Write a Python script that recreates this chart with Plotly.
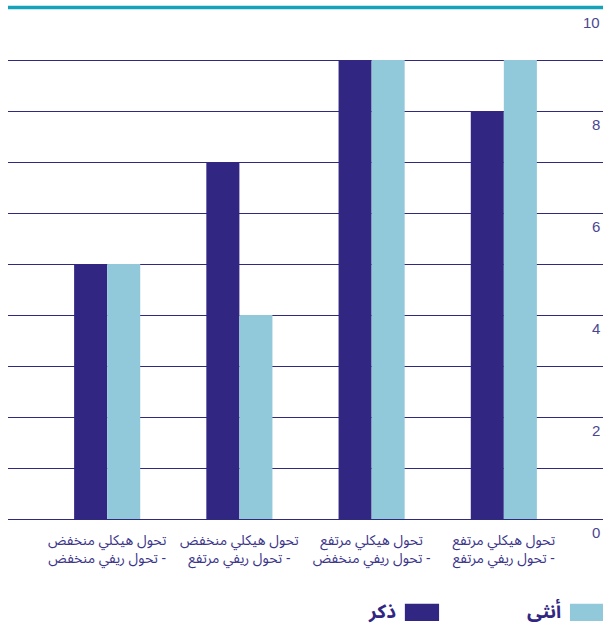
import plotly.graph_objects as go

categories = [
    "تحول هيكلي منخفض<br>تحول ريفي منخفض -",
    "تحول هيكلي منخفض<br>تحول ريفي مرتفع -",
    "تحول هيكلي مرتفع<br>تحول ريفي منخفض -",
    "تحول هيكلي مرتفع<br>تحول ريفي مرتفع -",
]
male = [5, 7, 9, 8]
female = [5, 4, 9, 9]
series_names = ["ذكر", "أنثى"]
y_tick_vals = [0, 2, 4, 6, 8, 10]
y_tick_text = ["0", "2", "4", "6", "8", "10"]

DARK = "#312783"
LIGHT = "#91c9db"
GRID = "#2e2a7e"
TEAL = "#14a3b8"
TXT = "#3b3589"
AR_FONT = "Noto Sans Arabic, DejaVu Sans, sans-serif"

x_idx = list(range(len(categories)))

fig = go.Figure()
fig.add_trace(go.Bar(x=x_idx, y=male, name=series_names[0], marker=dict(color=DARK, line=dict(width=0))))
fig.add_trace(go.Bar(x=x_idx, y=female, name=series_names[1], marker=dict(color=LIGHT, line=dict(width=0))))

fig.update_layout(
    width=603, height=624,
    margin=dict(l=8, r=0, t=9, b=105),
    paper_bgcolor="white", plot_bgcolor="white",
    barmode="group", bargap=0.5, bargroupgap=0,
    showlegend=False,
    xaxis=dict(
        range=[-0.75, 3.75],
        tickmode="array", tickvals=x_idx, ticktext=categories,
        showgrid=False, zeroline=False, showline=False, ticks="",
        ticklabelstandoff=11,
        tickfont=dict(family=AR_FONT, size=14, color=TXT),
        fixedrange=True,
    ),
    yaxis=dict(
        range=[0, 10], side="right",
        tickmode="array", tickvals=y_tick_vals, ticktext=y_tick_text,
        showticklabels=False,
        showgrid=True, gridcolor=GRID, gridwidth=1,
        minor=dict(dtick=1, tick0=0, showgrid=True, gridcolor=GRID, gridwidth=1),
        zeroline=True, zerolinecolor=GRID, zerolinewidth=1,
        showline=False, ticks="",
        fixedrange=True,
    ),
)

# y tick labels drawn just below their gridlines, right-aligned at the right edge
for v, t in zip(y_tick_vals, y_tick_text):
    fig.add_annotation(xref="paper", yref="y", x=1.0, y=v, text=t, showarrow=False,
                       xanchor="right", yanchor="top", xshift=-1, yshift=-3,
                       font=dict(family="Liberation Sans, Arial, sans-serif", size=15, color="#4b4690"))

# teal top rule at the top of the plotting area
fig.add_shape(type="line", xref="paper", yref="paper", x0=0, x1=1, y0=1.003, y1=1.003,
              line=dict(color=TEAL, width=3.5), layer="above")

# custom right-to-left legend (swatch to the right of its label)
legend_items = [(series_names[1], LIGHT, 0.9445, 1.0), (series_names[0], DARK, 0.667, 0.7245)]
for name, col, x0, x1 in legend_items:
    fig.add_shape(type="rect", xref="paper", yref="paper", x0=x0, x1=x1, y0=-0.2, y1=-0.166,
                  fillcolor=col, line=dict(width=0))
    fig.add_annotation(xref="paper", yref="paper", x=x0 - 0.012, y=-0.183, text="<b>" + name + "</b>",
                       showarrow=False, xanchor="right", yanchor="middle",
                       font=dict(family=AR_FONT, size=19, color=DARK))

fig.write_html("out.html")
